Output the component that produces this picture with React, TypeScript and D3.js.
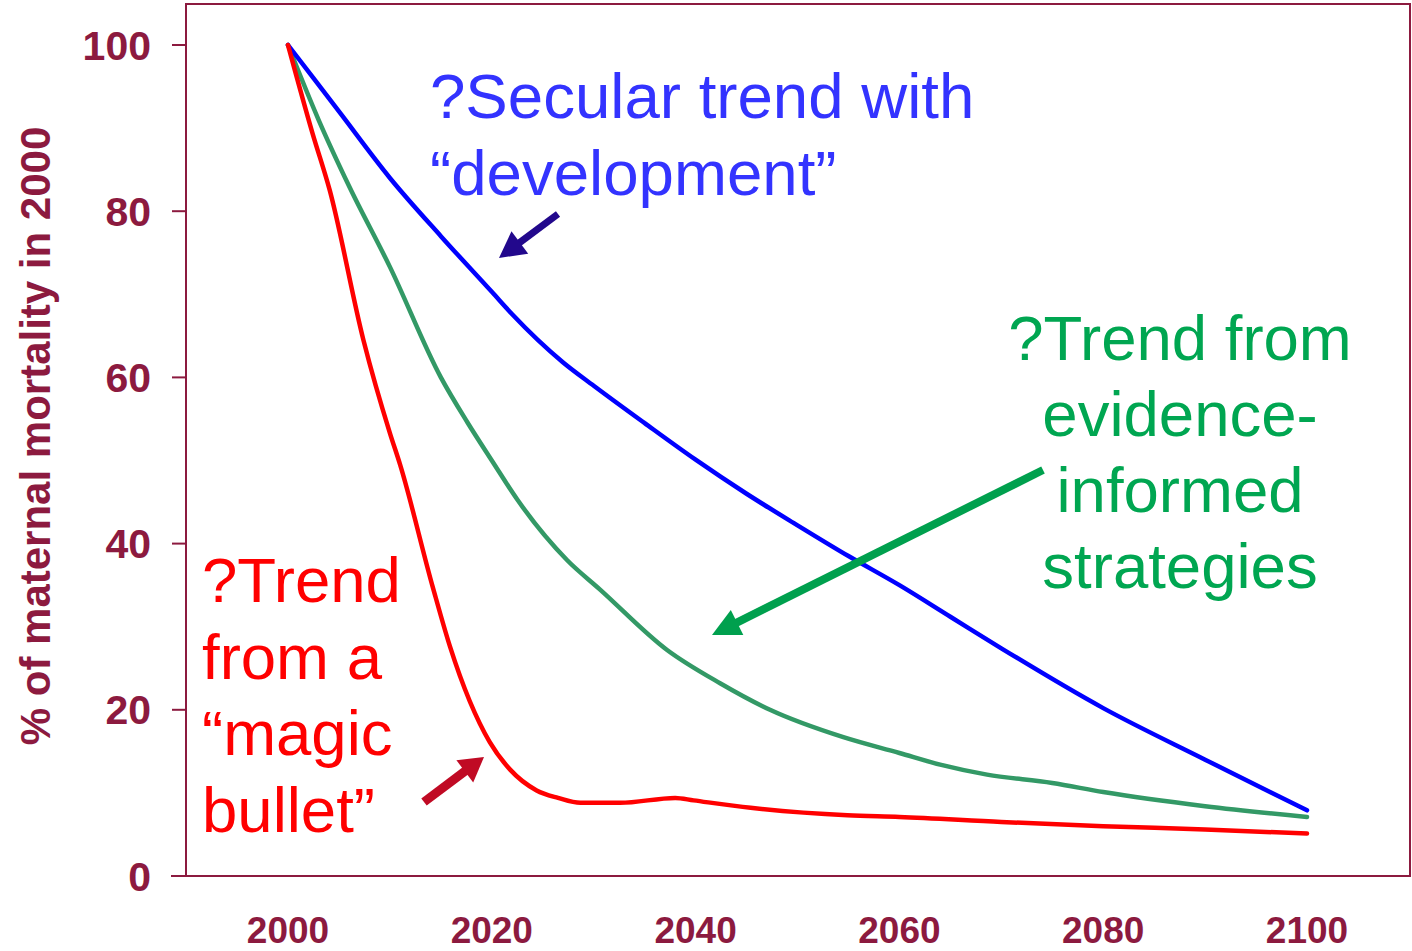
import React from "react";
import * as d3 from "d3";

const blueYears = [2000, 2005, 2010, 2015, 2020, 2022, 2027, 2030, 2035, 2040, 2045, 2050, 2055, 2060, 2065, 2070, 2080, 2090, 2100];
const blueValues = [100, 92, 84, 77, 70.3, 67.6, 61.8, 59, 54.5, 50.1, 46, 42.2, 38.5, 35, 31.2, 27.4, 20.2, 14, 7.9];

const greenYears = [2000, 2003, 2006, 2010, 2015, 2017.6, 2020, 2022.5, 2027.4, 2030.6, 2037.2, 2042.4, 2047.3, 2054.5, 2060, 2064, 2068.6, 2075, 2080, 2090, 2100];
const greenValues = [100, 91, 83, 73.3, 60, 54.6, 50, 45.3, 38, 34.5, 27.2, 23.2, 20, 16.7, 14.8, 13.4, 12.2, 11.2, 10.1, 8.4, 7.1];

const redYears = [2000, 2002.4, 2004.1, 2007.4, 2010, 2011, 2014.2, 2015.9, 2019.8, 2021.8, 2024.4, 2026.5, 2028.7, 2032.6, 2038, 2039.8, 2045.4, 2054.9, 2060, 2070, 2080, 2090, 2100];
const redValues = [100, 89.4, 82.5, 64.5, 53.3, 49.5, 34.8, 27.6, 16.1, 12.8, 10.3, 9.4, 8.8, 8.8, 9.4, 9.1, 8.2, 7.3, 7.1, 6.5, 6.0, 5.6, 5.1];

const yTicks = [0, 20, 40, 60, 80, 100];
const xTicks = [2000, 2020, 2040, 2060, 2080, 2100];

const yTitle = "% of maternal mortality in 2000";
const blueLabel = ["?Secular trend with", "\u201Cdevelopment\u201D"];
const greenLabel = ["?Trend from", "evidence-", "informed", "strategies"];
const redLabel = ["?Trend", "from a", "\u201Cmagic", "bullet\u201D"];

const AXIS = "#8c1a3f";
const FONT = "'Liberation Sans', Arial, Helvetica, sans-serif";

function Arrow({ x1, y1, x2, y2, color, width, headLen, headW }: any) {
  const dx = x2 - x1, dy = y2 - y1;
  const len = Math.sqrt(dx * dx + dy * dy);
  const ux = dx / len, uy = dy / len;
  const bx = x2 - ux * headLen, by = y2 - uy * headLen;
  const px = -uy, py = ux;
  const pts = [
    [x2, y2],
    [bx + px * headW / 2, by + py * headW / 2],
    [bx - px * headW / 2, by - py * headW / 2],
  ];
  return (
    <g>
      <line x1={x1} y1={y1} x2={bx + ux * 2} y2={by + uy * 2} stroke={color} strokeWidth={width} />
      <polygon points={pts.map((p) => p.join(",")).join(" ")} fill={color} />
    </g>
  );
}

export default function App() {
  const W = 1412, H = 951;
  const x = d3.scaleLinear().domain([2000, 2100]).range([288, 1307]);
  const y = d3.scaleLinear().domain([0, 100]).range([876, 45]);
  const frame = { left: 186, right: 1410, top: 4, bottom: 876 };

  const line = d3
    .line<[number, number]>()
    .x((d) => x(d[0]))
    .y((d) => y(d[1]))
    .curve(d3.curveMonotoneX);

  const series = [
    { years: greenYears, values: greenValues, color: "#339966" },
    { years: blueYears, values: blueValues, color: "#0000ff" },
    { years: redYears, values: redValues, color: "#ff0000" },
  ];

  return (
    <div style={{ position: "absolute", left: 0, top: 0 }}>
      <svg width={W} height={H} style={{ display: "block", background: "#fff" }} fontFamily={FONT}>
        <rect x={frame.left} y={frame.top} width={frame.right - frame.left} height={frame.bottom - frame.top} fill="none" stroke={AXIS} strokeWidth={2} />
        <line x1={171} x2={frame.left} y1={frame.bottom} y2={frame.bottom} stroke={AXIS} strokeWidth={2} />
        {yTicks.map((t) => (
          <g key={t}>
            <line x1={172} x2={frame.left} y1={y(t)} y2={y(t)} stroke={AXIS} strokeWidth={2} />
            <text x={151} y={y(t)} dy="0.355em" textAnchor="end" fontSize={41} fontWeight="bold" fill={AXIS}>
              {t}
            </text>
          </g>
        ))}
        {xTicks.map((t) => (
          <text key={t} x={x(t)} y={943} textAnchor="middle" fontSize={37} fontWeight="bold" fill={AXIS}>
            {t}
          </text>
        ))}
        <text transform={`translate(50,436) rotate(-90)`} textAnchor="middle" fontSize={42} fontWeight="bold" fill={AXIS}>
          {yTitle}
        </text>

        {series.map((s, i) => (
          <path
            key={i}
            d={line(s.years.map((yr, j) => [yr, s.values[j]] as [number, number])) || ""}
            fill="none"
            stroke={s.color}
            strokeWidth={4.5}
            strokeLinecap="round"
            strokeLinejoin="round"
          />
        ))}

        <text fontSize={63.6} fill="#3333ff">
          {blueLabel.map((l, i) => (
            <tspan key={i} x={430} y={118 + i * 77}>
              {l}
            </tspan>
          ))}
        </text>
        <text fontSize={63.5} fill="#00a651" textAnchor="middle">
          {greenLabel.map((l, i) => (
            <tspan key={i} x={1180} y={360 + i * 76}>
              {l}
            </tspan>
          ))}
        </text>
        <text fontSize={63.5} fill="#ff0000">
          {redLabel.map((l, i) => (
            <tspan key={i} x={202} y={602 + i * 76.5}>
              {l}
            </tspan>
          ))}
        </text>

        <Arrow x1={558} y1={214} x2={499} y2={258} color="#22088c" width={7} headLen={26} headW={28} />
        <Arrow x1={1043} y1={470} x2={712} y2={635} color="#00a04e" width={8} headLen={28} headW={28} />
        <Arrow x1={424} y1={802} x2={484} y2={757} color="#c00a24" width={9} headLen={24} headW={28} />
      </svg>
    </div>
  );
}
